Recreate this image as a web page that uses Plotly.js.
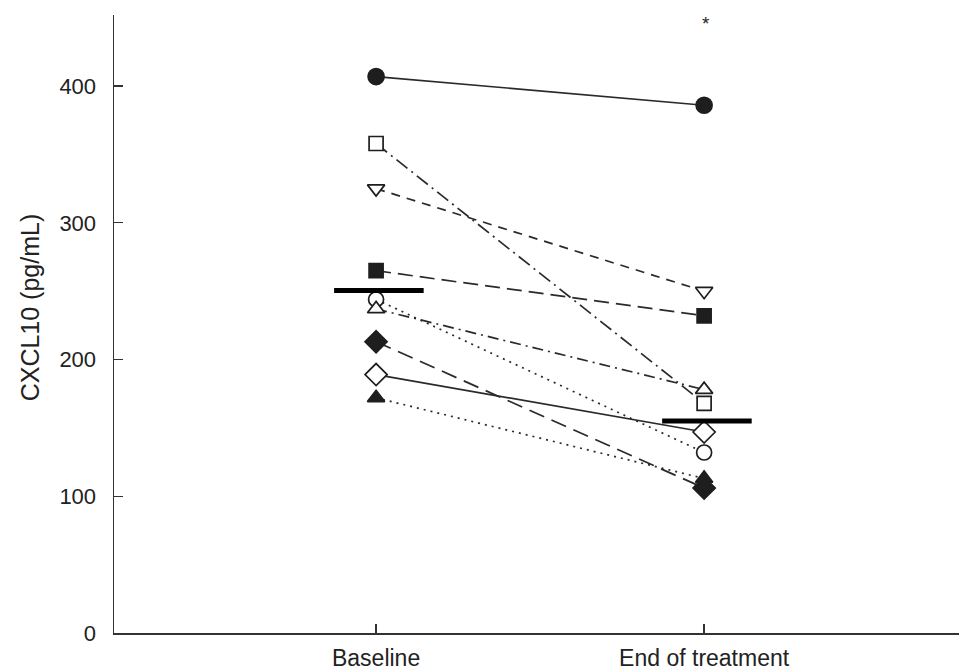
<!DOCTYPE html>
<html>
<head>
<meta charset="utf-8">
<script src="https://cdn.plot.ly/plotly-3.0.1.min.js"></script>
<style>html,body{margin:0;padding:0;background:#fff;}#chart{width:959px;height:670px;}</style>
</head>
<body>
<div id="chart"></div>
<script>
// Categories (time points)
const categories = ["Baseline", "End of treatment"];
const tickLabels = ["Baseline", "End of treatment"];

// Individual patient values (pg/mL): [baseline, end of treatment]
const patientFilledCircle   = [407, 386];
const patientOpenSquare     = [358, 168];
const patientOpenDownTri    = [325, 250];
const patientFilledSquare   = [265, 232];
const patientOpenCircle     = [244, 132];
const patientOpenUpTri      = [237, 178];
const patientFilledDiamond  = [213, 106];
const patientOpenDiamond    = [189, 147];
const patientFilledUpTri    = [172, 113];

// Group means
const meanValues = [250.5, 155];

const yTickVals = [0, 100, 200, 300, 400];
const yTitle = "CXCL10 (pg/mL)";
const significance = "*";

const ink = "#1e1e1e";
const xIdx = categories.map((c, i) => i);

function series(vals, symbol, filled, dash, size) {
  return {
    type: "scatter",
    mode: "lines+markers",
    x: xIdx,
    y: vals,
    line: {color: "#2a2a2a", width: 1.7, dash: dash},
    marker: {
      symbol: symbol,
      size: size,
      color: filled ? ink : "#ffffff",
      line: {color: ink, width: 1.7}
    },
    showlegend: false,
    hoverinfo: "y"
  };
}

const traces = [
  series(patientFilledCircle,  "circle",        true,  "solid", 16),
  series(patientOpenSquare,    "square",        false, "14px,5px,2px,5px", 14),
  series(patientOpenDownTri,   "triangle-down", false, "9px,7px", 15),
  series(patientFilledSquare,  "square",        true,  "15px,7px", 14),
  series(patientOpenCircle,    "circle",        false, "2px,5px", 15),
  series(patientOpenUpTri,     "triangle-up",   false, "11px,5px,2px,5px", 15),
  series(patientFilledDiamond, "diamond",       true,  "16px,8px", 17),
  series(patientOpenDiamond,   "diamond",       false, "solid", 17),
  series(patientFilledUpTri,   "triangle-up",   true,  "2px,5px", 15)
];

// Mean bars (drawn on top)
const halfLeft = 0.128, halfRight = 0.145;
meanValues.forEach((m, i) => {
  traces.push({
    type: "scatter",
    mode: "lines",
    x: [xIdx[i] - halfLeft, xIdx[i] + halfRight],
    y: [m, m],
    line: {color: "#000000", width: 5},
    showlegend: false,
    hoverinfo: "y"
  });
});

const font = "Liberation Sans, Arial, sans-serif";

const layout = {
  width: 959,
  height: 670,
  margin: {l: 114, r: 0, t: 15, b: 37},
  paper_bgcolor: "#ffffff",
  plot_bgcolor: "#ffffff",
  showlegend: false,
  font: {family: font, color: "#222222"},
  xaxis: {
    range: [-0.799, 1.777],
    tickmode: "array",
    tickvals: xIdx,
    ticktext: tickLabels,
    ticks: "inside",
    ticklen: 9,
    tickwidth: 1.3,
    tickcolor: "#333333",
    showline: true,
    linecolor: "#333333",
    linewidth: 1.5,
    showgrid: false,
    zeroline: false,
    ticklabelstandoff: 4,
    tickfont: {family: font, size: 23, color: "#222222"}
  },
  yaxis: {
    range: [0, 452],
    tickmode: "array",
    tickvals: yTickVals,
    ticks: "inside",
    ticklen: 9,
    tickwidth: 1.3,
    tickcolor: "#333333",
    showline: true,
    linecolor: "#333333",
    linewidth: 1.5,
    showgrid: false,
    zeroline: false,
    ticklabelstandoff: 12,
    tickfont: {family: font, size: 22, color: "#222222"}
  },
  annotations: [{
    x: xIdx[1], y: 446, xref: "x", yref: "y",
    text: significance, showarrow: false,
    font: {family: font, size: 19, color: "#222222"},
    xanchor: "center", yanchor: "middle", xshift: 2
  }, {
    x: -0.0994, y: 0.527, xref: "paper", yref: "paper",
    text: yTitle, showarrow: false, textangle: -90,
    font: {family: font, size: 25, color: "#222222"},
    xanchor: "center", yanchor: "middle"
  }]
};

Plotly.newPlot("chart", traces, layout, {displayModeBar: false, staticPlot: true});
</script>
</body>
</html>
